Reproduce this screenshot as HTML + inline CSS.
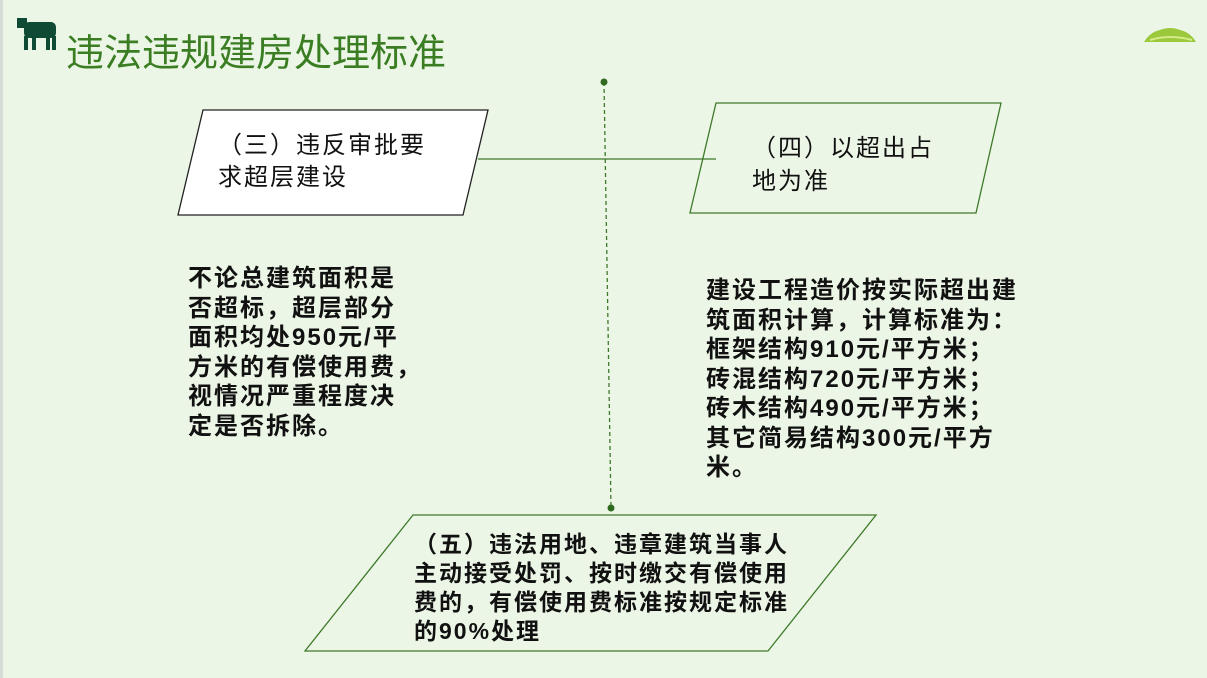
<!DOCTYPE html><html><head><meta charset="utf-8"><style>
body{margin:0;width:1207px;height:678px;background:#ecf6e6;position:relative;overflow:hidden;font-family:"Liberation Sans","Noto Sans CJK SC",sans-serif}
.t{position:absolute;white-space:nowrap}
</style></head><body>
<div style="position:absolute;left:0;top:0;width:3px;height:678px;background:#d6dcd6"></div>
<svg width="1207" height="678" style="position:absolute;left:0;top:0">
<g fill="#0e4a34"><rect x="24" y="22" width="32" height="16" rx="5"/><rect x="17" y="18" width="10" height="10"/><rect x="24" y="36" width="4" height="14"/><rect x="32" y="36" width="4" height="14"/><rect x="46" y="36" width="4" height="14"/><rect x="52" y="36" width="4" height="14"/></g>
<path d="M1144 42 Q1150 32 1160 30 Q1170 26 1180 30 Q1190 32 1196 42 Z" fill="#9cc83c"/>
<path d="M1150 40 Q1170 34 1192 40" stroke="#d4ec8a" fill="none" stroke-width="2"/>
<polygon points="203,110 488,110 463,215 178,215" fill="#fff" stroke="#222" stroke-width="1.3"/>
<polygon points="716,103 1001,103 976,213 690,213" fill="none" stroke="#3d7a2a" stroke-width="1.3"/>
<polygon points="413,515 876,515 768,651 305,651" fill="none" stroke="#3d7a2a" stroke-width="1.3"/>
<line x1="478" y1="159" x2="716" y2="159" stroke="#3d7a2a" stroke-width="1.3"/>
<line x1="604" y1="82" x2="611" y2="508" stroke="#3d7a2a" stroke-width="1.3" stroke-dasharray="4,3"/>
<circle cx="604" cy="82" r="3.5" fill="#2f6a1f"/><circle cx="611" cy="508" r="3.5" fill="#2f6a1f"/>
</svg>
<div class="t" style="left:66px;top:22px;font-size:38px;color:#3a7d22">违法违规建房处理标准</div>
<div class="t" style="left:218px;top:130px;font-size:24px;line-height:32px;letter-spacing:2px;color:#111">（三）违反审批要<br>求超层建设</div>
<div class="t" style="left:752px;top:132px;font-size:24px;line-height:33px;letter-spacing:2px;color:#111">（四）以超出占<br>地为准</div>
<div class="t" style="left:188px;top:264px;font-size:24px;line-height:29.5px;letter-spacing:2px;font-weight:bold;color:#111">不论总建筑面积是<br>否超标，超层部分<br>面积均处950元/平<br>方米的有偿使用费，<br>视情况严重程度决<br>定是否拆除。</div>
<div class="t" style="left:706px;top:276px;font-size:24px;line-height:29.5px;letter-spacing:2px;font-weight:bold;color:#111">建设工程造价按实际超出建<br>筑面积计算，计算标准为：<br>框架结构910元/平方米；<br>砖混结构720元/平方米；<br>砖木结构490元/平方米；<br>其它简易结构300元/平方<br>米。</div>
<div class="t" style="left:414px;top:530px;font-size:23px;line-height:29px;letter-spacing:2px;font-weight:bold;color:#111">（五）违法用地、违章建筑当事人<br>主动接受处罚、按时缴交有偿使用<br>费的，有偿使用费标准按规定标准<br>的90%处理</div>
</body></html>
